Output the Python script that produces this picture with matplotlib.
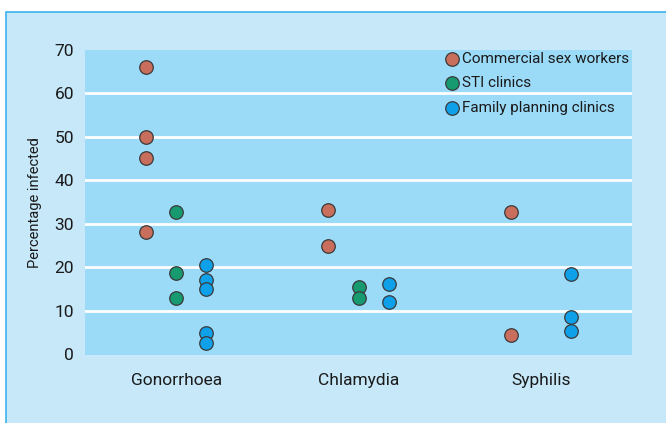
import numpy as np
import matplotlib.pyplot as plt
from matplotlib.patches import Rectangle

# data
diseases = ["Gonorrhoea", "Chlamydia", "Syphilis"]
groups = ["Commercial sex workers", "STI clinics", "Family planning clinics"]
csw = [[66.1, 50.0, 45.2, 28.1], [33.1, 25.0], [32.6, 4.4]]
sti = [[32.7, 18.7, 13.0], [15.4, 13.0], []]
fpc = [[20.6, 17.1, 15.0, 4.8, 2.5], [16.1, 12.0], [18.5, 8.5, 5.4]]

colors = ["#c96e5c", "#179a70", "#0fa0ea"]
offsets = [-0.165, 0, 0.165]

plt.rcParams['font.family'] = ['Roboto', 'DejaVu Sans']

fig = plt.figure(figsize=(6.66, 4.23), dpi=100)
fig.patch.set_facecolor("white")
# light blue panel with a thin blue border top/left
fig.patches.append(Rectangle((6/666, -0.05), 1.1, 1 - 12/423 + 0.05,
                             transform=fig.transFigure, facecolor="#c6e8f9",
                             edgecolor="#3db3ee", linewidth=1.2, zorder=-10))

ax = fig.add_axes([85/666, 1 - 355/423, 547/666, 305/423])
ax.set_facecolor("#9cdbf8")

centers = np.arange(len(diseases)) + 0.5
for series, col, off, name in zip([csw, sti, fpc], colors, offsets, groups):
    xs, ys = [], []
    for c, vals in zip(centers, series):
        xs += [c + off] * len(vals)
        ys += vals
    ax.scatter(xs, ys, s=95, color=col, edgecolor="#3a3a3a", linewidth=0.9,
               label=name, zorder=3)

ax.set_xlim(0, 3)
ax.set_ylim(-0.2, 70)
ax.set_yticks(range(0, 71, 10))
ax.set_xticks(centers)
ax.set_xticklabels(diseases)
for y in range(10, 70, 10):
    ax.axhline(y, color="white", linewidth=2, zorder=1)
for s in ax.spines.values():
    s.set_visible(False)
ax.tick_params(length=0, labelsize=12.5, colors="#1a1a1a")
ax.tick_params(axis="x", pad=13)
ax.tick_params(axis="y", pad=8)
ax.set_ylabel("Percentage infected", fontsize=10.5, color="#1a1a1a", labelpad=9)

leg = ax.legend(loc="upper right", frameon=False, fontsize=11,
                handletextpad=0.15, borderaxespad=0.1, labelspacing=0.7,
                handlelength=1.0, bbox_to_anchor=(1.008, 1.02))
for t in leg.get_texts():
    t.set_color("#1a1a1a")

fig.savefig("out.png", dpi=100)
